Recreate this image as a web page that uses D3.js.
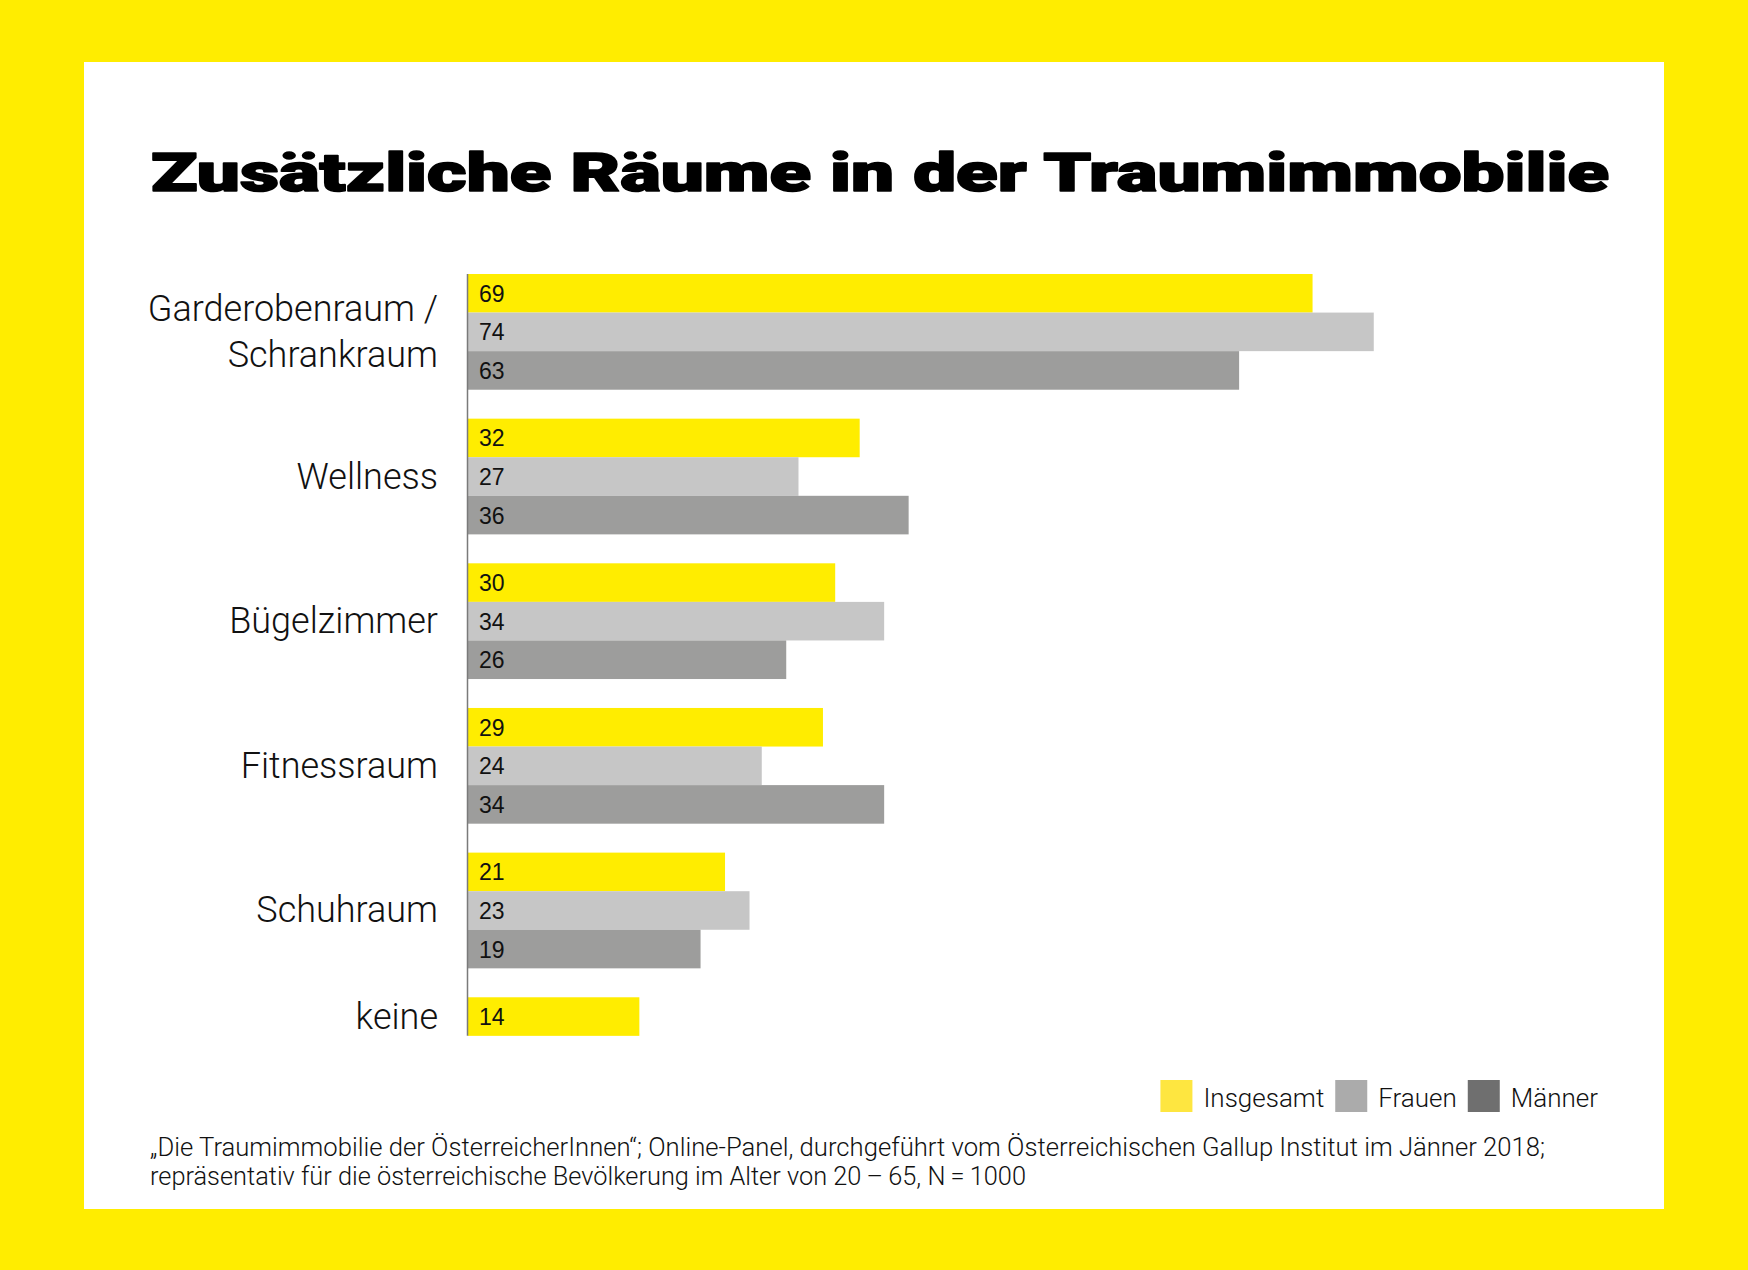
<!DOCTYPE html>
<html>
<head>
<meta charset="utf-8">
<script src="https://cdn.jsdelivr.net/npm/d3@7"></script>
<style>
  html, body { margin: 0; padding: 0; background: #FFED00; }
  svg { display: block; }
</style>
</head>
<body>
<svg id="chart" width="1748" height="1270"></svg>
<script>
// ---------- data ----------
const categories = ["Garderobenraum / Schrankraum", "Wellness", "Bügelzimmer", "Fitnessraum", "Schuhraum", "keine"];
const categoryLines = [["Garderobenraum /", "Schrankraum"], ["Wellness"], ["Bügelzimmer"], ["Fitnessraum"], ["Schuhraum"], ["keine"]];
const seriesNames = ["Insgesamt", "Frauen", "Männer"];
const insgesamt = [69, 32, 30, 29, 21, 14];
const frauen    = [74, 27, 34, 24, 23, null];
const maenner   = [63, 36, 26, 34, 19, null];
const titleText = "Zusätzliche Räume in der Traumimmobilie";
const footnoteLines = [
  "„Die Traumimmobilie der ÖsterreicherInnen“; Online-Panel, durchgeführt vom Österreichischen Gallup Institut im Jänner 2018;",
  "repräsentativ für die österreichische Bevölkerung im Alter von 20\u2009–\u200965, N\u2009=\u20091000"
];

// ---------- styles ----------
const barColors = ["#FFED00", "#C6C6C6", "#9D9D9C"];
const legendColors = ["#FEE640", "#ABABAB", "#6F6F6F"];
const lightFont = "'Roboto', 'Inter', 'Liberation Sans', sans-serif";

const seriesValues = [insgesamt, frauen, maenner];
const rows = [];
categories.forEach((c, i) => {
  seriesNames.forEach((s, j) => {
    const v = seriesValues[j][i];
    if (v !== null && v !== undefined) rows.push({ cat: c, series: s, si: j, value: v });
  });
});

const svg = d3.select("#chart");

// background + white panel
svg.append("rect").attr("x", 0).attr("y", 0).attr("width", 1748).attr("height", 1270).attr("fill", "#FFED00");
svg.append("rect").attr("x", 84).attr("y", 62).attr("width", 1580).attr("height", 1147).attr("fill", "#FFFFFF");

// title
svg.append("text")
  .attr("x", 151).attr("y", 191)
  .attr("font-family", "'Roboto', 'Inter', 'Liberation Sans', sans-serif")
  .attr("font-weight", 900)
  .attr("font-size", 54)
  .attr("textLength", 1458)
  .attr("lengthAdjust", "spacingAndGlyphs")
  .attr("fill", "#000")
  .attr("stroke", "#000")
  .attr("stroke-width", 1.6)
  .attr("stroke-linejoin", "round")
  .text(titleText);

// scales
const x0 = 468;
const x = d3.scaleLinear().domain([0, 80]).range([x0, x0 + 80 * 12.24]);
const y = d3.scaleBand().domain(categories).range([274, 1113]).paddingInner(0.2).paddingOuter(0);
const ys = d3.scaleBand().domain(seriesNames).range([0, y.bandwidth()]).padding(0);

// bars
const g = svg.append("g");
g.selectAll("rect.bar").data(rows).join("rect")
  .attr("class", "bar")
  .attr("x", x(0))
  .attr("y", d => y(d.cat) + ys(d.series))
  .attr("width", d => x(d.value) - x(0))
  .attr("height", ys.bandwidth())
  .attr("fill", d => barColors[d.si]);

// value labels
g.selectAll("text.val").data(rows).join("text")
  .attr("class", "val")
  .attr("x", x(0) + 11)
  .attr("y", d => y(d.cat) + ys(d.series) + ys.bandwidth() / 2 + 8.5)
  .attr("font-family", "'Liberation Sans', 'Roboto', sans-serif")
  .attr("font-size", 23)
  .attr("fill", "#111")
  .text(d => d.value);

// axis line (from first bar top to bottom of last drawn bar)
const lastRow = rows[rows.length - 1];
const axisBottom = y(lastRow.cat) + ys(lastRow.series) + ys.bandwidth();
svg.append("line")
  .attr("x1", x(0) - 0.5).attr("x2", x(0) - 0.5)
  .attr("y1", y(categories[0])).attr("y2", axisBottom)
  .attr("stroke", "#7A7A7A").attr("stroke-width", 1.5);

// category labels
const lab = svg.append("g")
  .attr("font-family", lightFont)
  .attr("font-weight", 300)
  .attr("font-size", 36)
  .attr("fill", "#111")
  .attr("text-anchor", "end");
categories.forEach((c, i) => {
  const lines = categoryLines[i];
  const nSeries = rows.filter(r => r.cat === c).length;
  const center = nSeries === 3 ? y(c) + y.bandwidth() / 2 : y(c) + ys.bandwidth() / 2;
  const lh = 46;
  const t = lab.append("text").attr("x", 438);
  lines.forEach((ln, k) => {
    t.append("tspan")
      .attr("x", 438)
      .attr("y", center + 12 + (k - (lines.length - 1) / 2) * lh)
      .text(ln);
  });
});

// legend (laid out from the right edge)
const leg = svg.append("g").attr("font-family", lightFont).attr("font-weight", 300).attr("font-size", 26).attr("fill", "#111");
const legItems = seriesNames.map((s, i) => {
  const grp = leg.append("g");
  grp.append("rect").attr("x", 0).attr("y", 1080).attr("width", 32).attr("height", 32).attr("fill", legendColors[i]);
  const t = grp.append("text").attr("x", 43).attr("y", 1107).text(s);
  return { grp, w: 43 + t.node().getComputedTextLength() };
});
let rx = 1598;
for (let i = legItems.length - 1; i >= 0; i--) {
  rx -= legItems[i].w;
  legItems[i].grp.attr("transform", `translate(${rx},0)`);
  rx -= 11;
}

// footnote
const foot = svg.append("g").attr("font-family", lightFont).attr("font-weight", 300).attr("font-size", 25).attr("fill", "#111");
const footWidths = [1395, 876];
footnoteLines.forEach((ln, k) => {
  foot.append("text")
    .attr("x", 150).attr("y", 1156 + k * 29)
    .attr("textLength", footWidths[k])
    .attr("lengthAdjust", "spacingAndGlyphs")
    .text(ln);
});
</script>
</body>
</html>
